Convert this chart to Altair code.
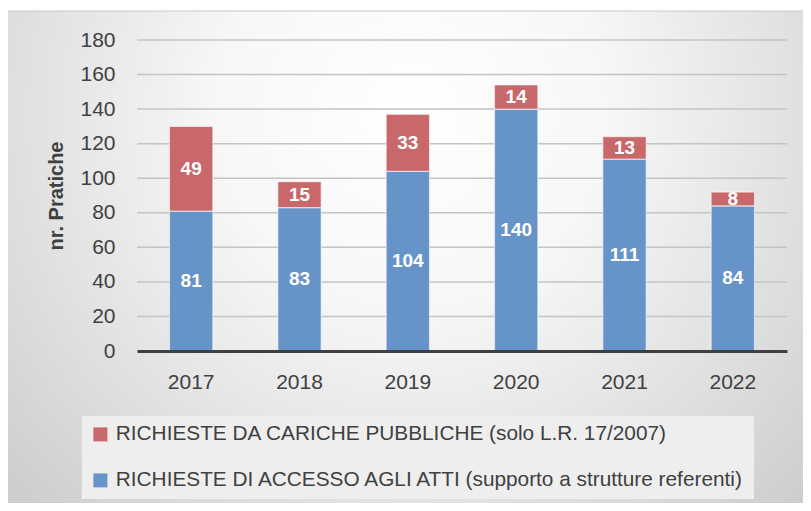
import altair as alt
import pandas as pd

years = ["2017", "2018", "2019", "2020", "2021", "2022"]
accesso = [81, 83, 104, 140, 111, 84]
cariche = [49, 15, 33, 14, 13, 8]
y_ticks = [0, 20, 40, 60, 80, 100, 120, 140, 160, 180]

S_RED = "RICHIESTE DA CARICHE PUBBLICHE (solo L.R. 17/2007)"
S_BLUE = "RICHIESTE DI ACCESSO AGLI ATTI (supporto a strutture referenti)"
RED = "#C8686A"
BLUE = "#6794C8"
TXT = "#404040"
FONT = "Liberation Sans"

rows = []
for i, y in enumerate(years):
    rows.append({"year": y, "series": S_BLUE, "value": accesso[i], "order": 0})
    rows.append({"year": y, "series": S_RED, "value": cariche[i], "order": 1})
df = pd.DataFrame(rows)
grid_df = pd.DataFrame({"y0": [t for t in y_ticks if t > 0]})

W, H = 650, 311

yaxis = alt.Axis(
    values=y_ticks, grid=False, ticks=False, tickSize=0, domain=False,
    labelPadding=22, labelFontSize=21, labelColor=TXT, labelFont=FONT,
    title="nr. Pratiche", titleFontSize=20, titleFontWeight="bold",
    titleColor=TXT, titleFont=FONT, titlePadding=13, zindex=1,
)
yscale = alt.Scale(domain=[0, 180])

bg = alt.Chart(pd.DataFrame({"a": [0]})).mark_rect(
    fill={
        "gradient": "radial",
        "stops": [
            {"offset": 0, "color": "#ffffff"},
            {"offset": 0.3, "color": "#f7f7f7"},
            {"offset": 1, "color": "#c2c2c2"},
        ],
        "x1": 0.5, "y1": 0.3, "r1": 0,
        "x2": 0.5, "y2": 0.3, "r2": 0.8,
    },
    stroke="#c8c8c8",
    strokeWidth=1,
).encode(
    x=alt.value(-132), x2=alt.value(W + 30),
    y=alt.value(-29), y2=alt.value(H + 190),
)

grid = alt.Chart(grid_df).mark_rule(color="#c4c4c4", strokeWidth=1.5).encode(
    y=alt.Y("y0:Q", scale=yscale, axis=yaxis)
)

base = alt.Chart(df).transform_stack(
    stack="value", groupby=["year"], as_=["y0", "y1"],
    sort=[alt.SortField("order", order="ascending")],
).transform_calculate(mid="(datum.y0 + datum.y1) / 2")

xenc = alt.X(
    "year:N", sort=years,
    scale=alt.Scale(paddingInner=0.6, paddingOuter=0.3),
    axis=alt.Axis(
        title=None, labelAngle=0, tickSize=0, ticks=False,
        domainColor=TXT, domainWidth=3, labelPadding=20,
        labelFontSize=21, labelColor=TXT, labelFont=FONT, zindex=1,
    ),
)

bars = base.mark_bar(stroke="#ffffff", strokeOpacity=0.55, strokeWidth=1.2).encode(
    x=xenc,
    y=alt.Y("y0:Q", scale=yscale, axis=yaxis),
    y2="y1:Q",
    color=alt.Color(
        "series:N",
        scale=alt.Scale(domain=[S_RED, S_BLUE], range=[RED, BLUE]),
        legend=alt.Legend(
            title=None, orient="none", legendX=-55, legendY=376,
            direction="vertical", symbolType="square", symbolSize=196,
            symbolStrokeWidth=0, labelFontSize=20.8, labelColor=TXT,
            labelFont=FONT, labelOffset=5, rowPadding=24, padding=8,
            fillColor="#eeeeee", labelLimit=800,
        ),
    ),
)

labels = base.mark_text(
    color="white", fontWeight="bold", fontSize=19, font=FONT, baseline="middle"
).encode(
    x=alt.X("year:N", sort=years),
    y=alt.Y("mid:Q", scale=yscale, axis=yaxis),
    text=alt.Text("value:Q"),
)

chart = alt.layer(bg, grid, bars, labels).properties(
    width=W, height=H,
    autosize=alt.AutoSizeParams(type="none"),
    padding={"left": 129, "top": 32, "right": 16, "bottom": 152},
).configure_view(stroke=None).configure(background="#ffffff", font=FONT)

chart.save("out.html", embed_options={"renderer": "svg", "actions": False})
